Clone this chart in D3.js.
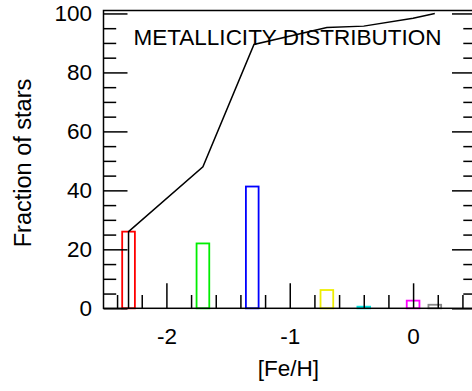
<!DOCTYPE html>
<html>
<head>
<meta charset="utf-8">
<script src="https://cdn.jsdelivr.net/npm/d3@7"></script>
<style>
  html, body { margin: 0; padding: 0; background: #fff; }
  svg { display: block; }
  text { font-family: "Liberation Sans", Arial, sans-serif; }
</style>
</head>
<body>
<svg id="chart" width="472" height="391"></svg>
<script>
// ---- data ----
const binCenters = [-2.307, -1.704, -1.304, -0.699, -0.40, 0.0, 0.176];
const binFractions = [26, 22, 41.3, 6.2, 0.55, 2.6, 1.2];
const binColors = ["#ff0000", "#00ee00", "#0000ff", "#eeee00", "#00e5e5", "#ff00ff", "#888888"];
const binWidth = 0.103;
const cumX = [-2.307, -2.307, -1.704, -1.29, -0.699, -0.40, 0.0, 0.176];
const cumY = [0, 26, 48, 89.5, 95.2, 95.7, 98.4, 100];
const xMajorTicks = [-2, -1, 0];
const xMinorTicks = [-2.4, -2.2, -1.8, -1.6, -1.4, -1.2, -0.8, -0.6, -0.4, -0.2, 0.2, 0.4];
const yMajorTicks = [0, 20, 40, 60, 80, 100];
const yMinorTicks = [5, 10, 15, 25, 30, 35, 45, 50, 55, 65, 70, 75, 85, 90, 95];
const titleText = "METALLICITY DISTRIBUTION";
const xLabel = "[Fe/H]";
const yLabel = "Fraction of stars";

// ---- layout ----
const L = 103.5, R = 476, T = 10.5, B = 308.3;
const svg = d3.select("#chart");
const x = d3.scaleLinear().domain([-2.51, 0.51]).range([L, R]);
const y = d3.scaleLinear().domain([0, 101]).range([B, T]);
const FS = 22.5;

// bars (hollow)
svg.append("g").selectAll("rect").data(binCenters).join("rect")
  .attr("x", d => x(d - binWidth / 2))
  .attr("y", (d, i) => y(binFractions[i]))
  .attr("width", d => x(d + binWidth / 2) - x(d - binWidth / 2))
  .attr("height", (d, i) => y(0) - y(binFractions[i]))
  .attr("fill", "none")
  .attr("stroke", (d, i) => binColors[i])
  .attr("stroke-width", 1.8);

// cumulative line
const line = d3.line().x(d => x(d[0])).y(d => y(d[1]));
svg.append("path")
  .datum(cumX.map((v, i) => [v, cumY[i]]))
  .attr("d", line)
  .attr("fill", "none").attr("stroke", "#000").attr("stroke-width", 1.5);

function styleAxis(g) {
  g.select(".domain").remove();
  g.selectAll("line").attr("stroke", "#000").attr("stroke-width", 1.5);
  g.selectAll("text").attr("font-size", FS).attr("fill", "#000")
    .attr("font-family", "Liberation Sans, Arial, sans-serif");
}
const plainFmt = d => String(d);

// left axis
svg.append("g").attr("transform", `translate(${L},0)`)
  .call(d3.axisLeft(y).tickValues(yMajorTicks).tickSize(-24).tickPadding(11.5).tickFormat(plainFmt))
  .call(styleAxis);
svg.append("g").attr("transform", `translate(${L},0)`)
  .call(d3.axisLeft(y).tickValues(yMinorTicks).tickSize(-12.7).tickFormat(""))
  .call(styleAxis);
// right axis (mirror ticks)
svg.append("g").attr("transform", `translate(${R},0)`)
  .call(d3.axisRight(y).tickValues(yMajorTicks).tickSize(-24).tickFormat(""))
  .call(styleAxis);
svg.append("g").attr("transform", `translate(${R},0)`)
  .call(d3.axisRight(y).tickValues(yMinorTicks).tickSize(-12.7).tickFormat(""))
  .call(styleAxis);
// bottom axis
svg.append("g").attr("transform", `translate(0,${B})`)
  .call(d3.axisBottom(x).tickValues(xMajorTicks).tickSize(-25).tickPadding(20).tickFormat(plainFmt))
  .call(styleAxis);
svg.append("g").attr("transform", `translate(0,${B})`)
  .call(d3.axisBottom(x).tickValues(xMinorTicks).tickSize(-13.3).tickFormat(""))
  .call(styleAxis);

// frame
svg.append("rect").attr("x", L).attr("y", T).attr("width", R - L).attr("height", B - T)
  .attr("fill", "none").attr("stroke", "#000").attr("stroke-width", 1.5);

// title
svg.append("text").attr("x", 287.5).attr("y", 45).attr("text-anchor", "middle")
  .attr("font-size", FS).attr("fill", "#000").text(titleText);

// axis labels
svg.append("text").attr("x", 288.5).attr("y", 376).attr("text-anchor", "middle")
  .attr("font-size", FS).attr("fill", "#000").text(xLabel);
svg.append("text").attr("transform", "translate(31,163) rotate(-90)").attr("text-anchor", "middle")
  .attr("font-size", 23.5).attr("fill", "#000").text(yLabel);
</script>
</body>
</html>
